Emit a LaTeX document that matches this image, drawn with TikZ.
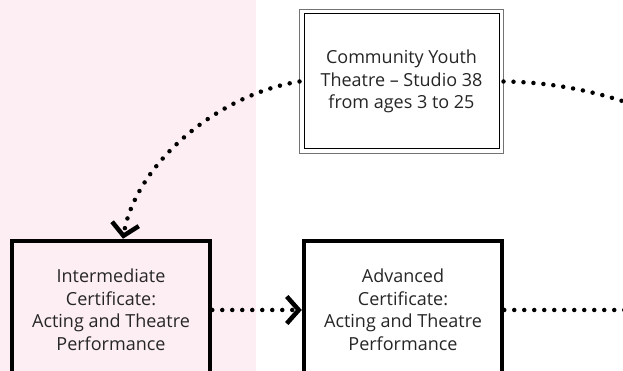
\documentclass[tikz,border=0pt]{standalone}
\usepackage{fontspec}
\setmainfont{Open Sans}
\usetikzlibrary{arrows.meta}
\definecolor{pinkbg}{HTML}{FDEEF3}
\definecolor{txt}{HTML}{262626}
\tikzset{
  x=1pt,y=1pt,
  txtstyle/.style={font=\fontsize{18}{22.5}\selectfont, text=txt, align=center},
  thinbox/.style={txtstyle, draw=black, line width=1pt, fill=white, minimum width=195pt, minimum height=135pt, inner sep=0pt},
  thickbox/.style={txtstyle, draw=black, line width=4.5pt, minimum width=198pt, minimum height=138pt, inner sep=0pt},
  dotline/.style={line width=4.5pt, line cap=round, dash pattern=on 0pt off 10pt},
  chev/.style={-{Straight Barb[length=12pt,width=27pt,line width=4.5pt]}}
}
\begin{document}
\begin{tikzpicture}
\useasboundingbox (0,0) rectangle (623,371);
\clip (0,0) rectangle (623,371);
\fill[pinkbg] (0,0) rectangle (256,371);
\node[thinbox] (top) at (401.5,289.5) {Community Youth\\Theatre – Studio 38\\from ages 3 to 25};
\draw[black!55, line width=1pt] ([shift={(-4,4)}]top.north west) rectangle ([shift={(4,-4)}]top.south east);
\node[thickbox, fill=pinkbg] (inter) at (111,61) {Intermediate\\Certificate:\\Acting and Theatre\\Performance};
\node[thickbox, fill=white] (adv) at (403,61) {Advanced\\Certificate:\\Acting and Theatre\\Performance};
\coordinate (rightend) at (640,61);
\coordinate (curveend) at (650,260);
\draw[dotline, chev] ([xshift=-4pt]top.west) .. controls (215,276) and (135,205) .. ([xshift=12pt]inter.north);
\draw[dotline, chev] (inter.east) -- (adv.west);
\draw[dotline] (adv.east) -- (rightend);
\draw[dotline] ([xshift=4pt]top.east) .. controls (550,289) and (600,280) .. (curveend);
\end{tikzpicture}
\end{document}
